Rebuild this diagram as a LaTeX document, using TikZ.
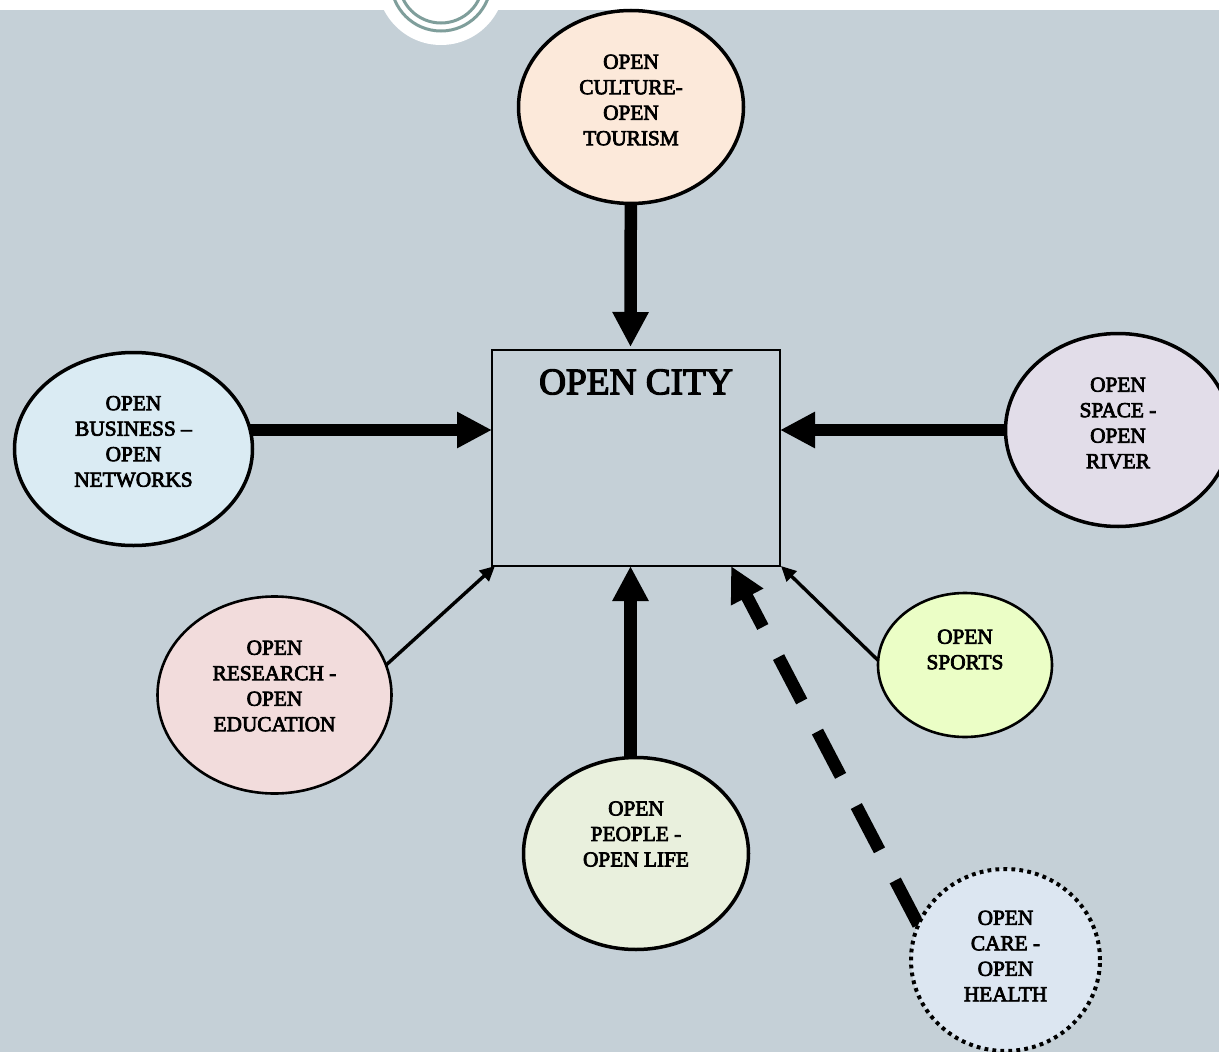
\documentclass[tikz,border=0pt]{standalone}
\usepackage{fontspec}
\setmainfont[FakeBold=3.5]{Liberation Serif}
\usetikzlibrary{arrows.meta,shapes.geometric,backgrounds}
\definecolor{pagebg}{HTML}{C5D0D7}
\definecolor{ringteal}{HTML}{7F9E9B}
\definecolor{culturefill}{HTML}{FCE9DA}
\definecolor{businessfill}{HTML}{DAEBF3}
\definecolor{spacefill}{HTML}{E2DDE9}
\definecolor{researchfill}{HTML}{F2DCDC}
\definecolor{peoplefill}{HTML}{E9F0DD}
\definecolor{sportsfill}{HTML}{EBFEC6}
\definecolor{carefill}{HTML}{DCE6F1}
\tikzset{
  bubble/.style={ellipse,draw=black,line width=3.5pt,inner sep=0pt,outer sep=0pt},
  thinbubble/.style={bubble,line width=2.6pt},
  dotbubble/.style={bubble,line width=4pt,dash pattern=on 3.8pt off 4.2pt},
  lines/.style={align=center,inner sep=0pt,font={\fontsize{21.3}{25.5}\selectfont}},
  heavyarrow/.style={line width=12.5pt,-{Triangle[width=34pt,length=35pt]}},
  dasharrow/.style={heavyarrow,dash pattern=on 50pt off 34pt},
  lightarrow/.style={line width=3.4pt,-{Triangle[width=14pt,length=15pt]}},
  cityrect/.style={draw=black,line width=2pt,inner sep=0pt,outer sep=0pt,minimum width=288pt,minimum height=216pt}
}
\begin{document}
\begin{tikzpicture}[x=1pt,y=-1pt]
\path[use as bounding box] (0,0) rectangle (1219,1052);
\begin{scope}
\clip (0,0) rectangle (1219,1052);
\node[cityrect] (city) at (636,458) {};
\node[inner sep=0pt,font={\fontsize{37.3}{40}\selectfont}] (citytext) at (636,382) {OPEN CITY};

\node[bubble,fill=culturefill,minimum width=225pt,minimum height=193pt] (culture) at (631,107) {};
\node[lines] (culturetext) at ([yshift=7pt]culture) {OPEN\\CULTURE-\\OPEN\\TOURISM};

\node[bubble,fill=businessfill,minimum width=238pt,minimum height=193pt] (business) at (133.5,449) {};
\node[lines] (businesstext) at ([yshift=7.5pt]business) {OPEN\\BUSINESS –\\OPEN\\NETWORKS};

\node[bubble,fill=spacefill,minimum width=225pt,minimum height=193pt] (space) at (1118,430) {};
\node[lines] (spacetext) at ([yshift=7pt]space) {OPEN\\SPACE -\\OPEN\\RIVER};

\node[thinbubble,fill=researchfill,minimum width=234pt,minimum height=197pt] (research) at (274.5,695) {};
\node[lines] (researchtext) at ([yshift=9pt]research) {OPEN\\RESEARCH -\\OPEN\\EDUCATION};

\node[bubble,fill=peoplefill,minimum width=225pt,minimum height=192pt] (people) at (636,853.5) {};
\node[lines] (peopletext) at ([yshift=19.5pt]people) {OPEN\\PEOPLE -\\OPEN LIFE};

\node[thinbubble,fill=sportsfill,minimum width=174pt,minimum height=144pt] (sports) at (965,665) {};
\node[lines] (sportstext) at ([yshift=15.5pt]sports) {OPEN\\SPORTS};

\node[dotbubble,fill=carefill,minimum width=189pt,minimum height=182pt] (care) at (1005.5,960) {};
\node[lines] (caretext) at ([yshift=4pt]care) {OPEN\\CARE -\\OPEN\\HEALTH};
\end{scope}

\coordinate (cityleft) at (492,430);
\coordinate (cityright) at (780,430);
\coordinate (citytop) at (630.5,347);
\coordinate (citybottom) at (630.5,566);
\coordinate (citydash) at (731,566);
\coordinate (cityresearch) at (495,566);
\coordinate (citysports) at (781,566);

\begin{pgfonlayer}{background}
\begin{scope}
\clip (0,0) rectangle (1219,1052);
\fill[pagebg] (0,0) rectangle (1219,1052);
\fill[white] (0,0) rectangle (1219,10);
\fill[white] (441,-19) circle[radius=64pt];
\draw[ringteal,line width=3pt] (441,-19) circle[radius=50pt];
\draw[ringteal,line width=3pt] (441,-19) circle[radius=42pt];
\end{scope}
\draw[heavyarrow] (culture) -- (citytop);
\draw[heavyarrow] (business |- cityleft) -- (cityleft);
\draw[heavyarrow] (space) -- (cityright);
\draw[heavyarrow] (people.north -| citybottom) -- (citybottom);
\draw[dasharrow] (care.158) -- (citydash);
\draw[lightarrow] (research.15) -- (cityresearch);
\draw[lightarrow] (sports.177) -- (citysports);
\end{pgfonlayer}
\end{tikzpicture}
\end{document}
